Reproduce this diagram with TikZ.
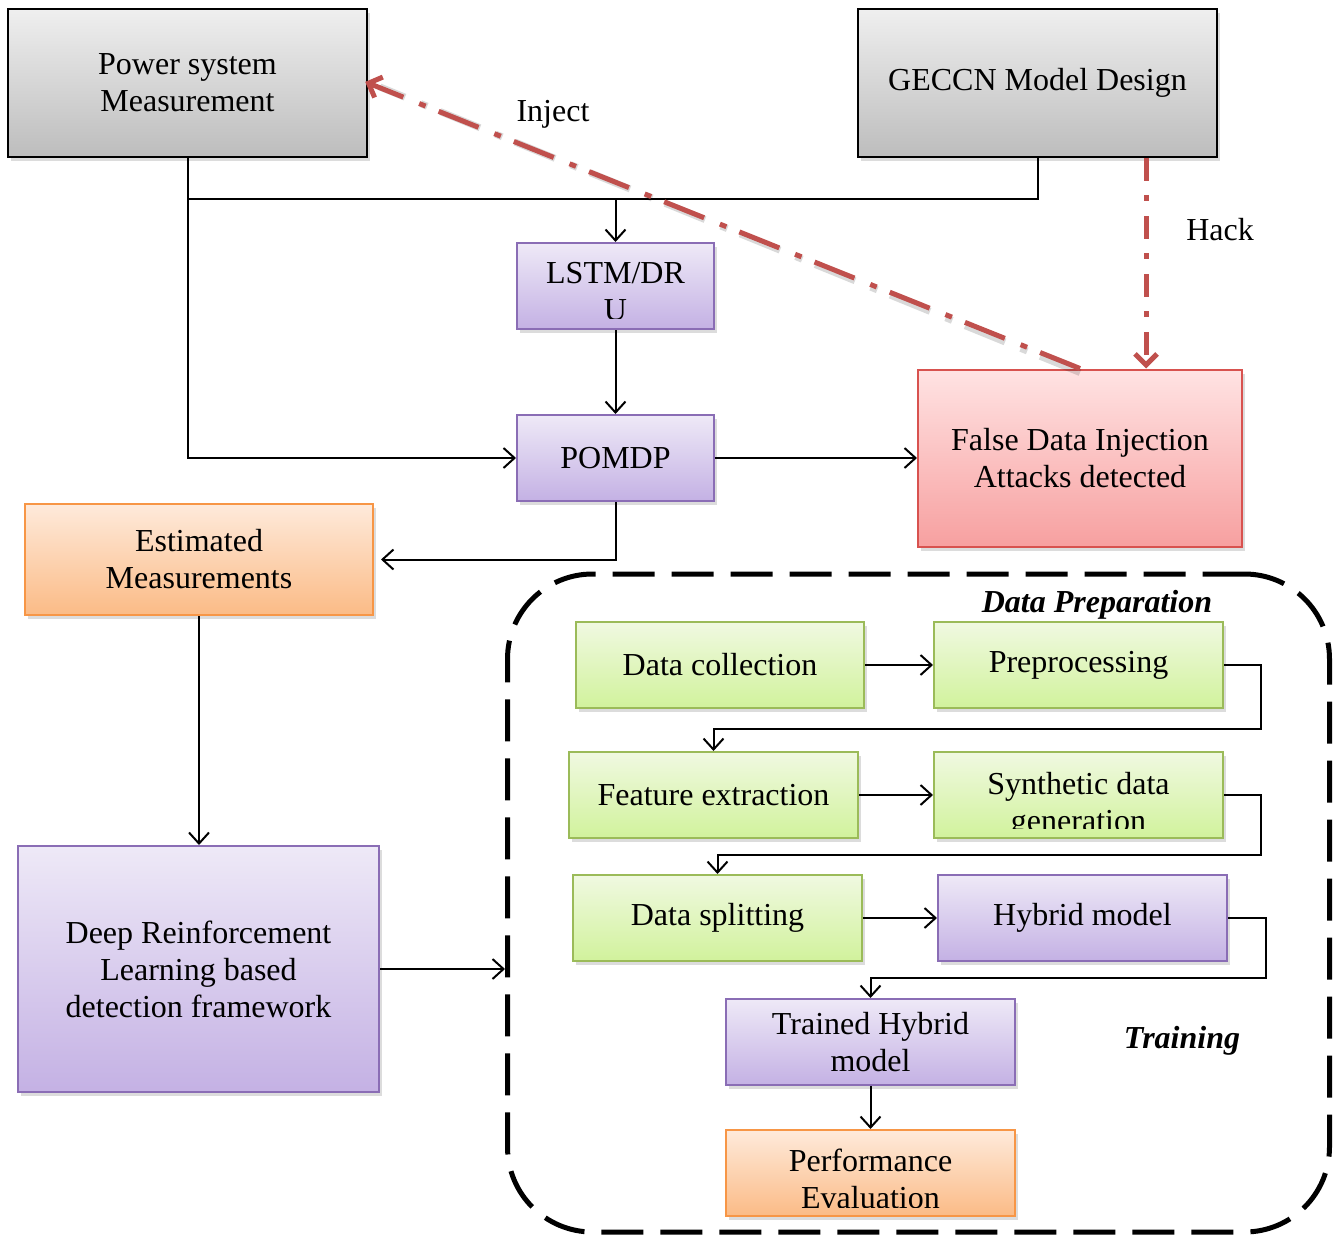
\documentclass[tikz,border=0pt]{standalone}
\usepackage{fontspec}
\setmainfont{Liberation Serif}
\usetikzlibrary{arrows.meta,shadows,calc}
\definecolor{grayT}{HTML}{EFEFEF}
\definecolor{grayB}{HTML}{BDBDBD}
\definecolor{purT}{HTML}{EEE9F7}
\definecolor{purB}{HTML}{C4B1E4}
\definecolor{purD}{HTML}{8A6DB5}
\definecolor{pinkT}{HTML}{FFE3E3}
\definecolor{pinkB}{HTML}{F7A0A0}
\definecolor{pinkD}{HTML}{D8524F}
\definecolor{oraT}{HTML}{FEEADB}
\definecolor{oraB}{HTML}{FBBB86}
\definecolor{oraD}{HTML}{F79646}
\definecolor{grnT}{HTML}{F0F9E1}
\definecolor{grnB}{HTML}{D1F29C}
\definecolor{grnD}{HTML}{9BBB59}
\definecolor{redL}{HTML}{C0504D}
\begin{document}
\begin{tikzpicture}[x=1pt,y=-1pt,
  txt/.style={align=center,inner sep=0pt,font=\fontsize{32}{37}\selectfont},
  box/.style={txt,line width=2pt,minimum height=86pt,
    drop shadow={shadow xshift=3pt,shadow yshift=-4pt,opacity=0.28}},
  graybox/.style={box,draw=black,top color=grayT,bottom color=grayB},
  purbox/.style={box,draw=purD,top color=purT,bottom color=purB},
  pinkbox/.style={box,draw=pinkD,top color=pinkT,bottom color=pinkB},
  orabox/.style={box,draw=oraD,top color=oraT,bottom color=oraB},
  grnbox/.style={box,draw=grnD,top color=grnT,bottom color=grnB},
  conn/.style={line width=2pt,draw=black},
  arr/.style={conn,-{Straight Barb[length=11pt,width=20pt]}},
  redarr/.style={draw=redL,line width=5pt,-{Straight Barb[length=11pt,width=22pt]}},
  lbl/.style={txt},
  blbl/.style={txt,font=\fontsize{32}{37}\selectfont\bfseries\itshape}
]
\useasboundingbox (0,0) rectangle (1334,1236);

% dashed region
\node[draw=black,line width=5pt,dash pattern=on 42pt off 17pt,rounded corners=85pt,
  minimum width=822pt,minimum height=658pt,inner sep=0pt] (prep) at (918.5,903) {};

% top boxes
\node[graybox,minimum width=359pt,minimum height=148pt] (pwr) at (187.5,83) {Power system\\Measurement};
\node[graybox,minimum width=359pt,minimum height=148pt] (geccn) at (1037.5,83) {GECCN Model Design};

\node[purbox,minimum width=197pt] (lstm) at (615.5,286) {};
\begin{scope}
  \clip (lstm.north west) rectangle ([yshift=12pt]lstm.south east);
  \node[txt] at ([yshift=-6pt]lstm.center) {LSTM/DR\\U};
\end{scope}
\node[purbox,minimum width=197pt] (pomdp) at (615.5,458) {POMDP};

\node[pinkbox,minimum width=324pt,minimum height=177pt] (fdi) at (1080,458) {False Data Injection\\Attacks detected};

\node[orabox,minimum width=348pt,minimum height=111pt] (est) at (199,559.5) {Estimated\\Measurements};
\node[purbox,minimum width=361pt,minimum height=246pt] (drl) at (198.5,969) {Deep Reinforcement\\Learning based\\detection framework};

% inner boxes
\node[grnbox,minimum width=288pt] (dc) at (720,665) {Data collection};
\node[grnbox,minimum width=289pt] (pre) at (1078.5,665) {Preprocessing};
\node[grnbox,minimum width=289pt] (fe) at (713.5,795) {Feature extraction};
\node[grnbox,minimum width=289pt] (syn) at (1078.5,795) {};
\begin{scope}
  \clip (syn.north west) rectangle ([yshift=11pt]syn.south east);
  \node[txt] at ([yshift=-10pt]syn.center) {Synthetic data\\generation};
\end{scope}
\node[grnbox,minimum width=289pt] (ds) at (717.5,918) {Data splitting};
\node[purbox,minimum width=289pt] (hyb) at (1082.5,918) {Hybrid model};
\node[purbox,minimum width=289pt] (thm) at (870.5,1042) {Trained Hybrid\\model};
\node[orabox,minimum width=289pt] (perf) at (870.5,1173) {};
\begin{scope}
  \clip (perf.north west) rectangle ([yshift=10pt]perf.south east);
  \node[txt] at ([yshift=-6pt]perf.center) {Performance\\Evaluation};
\end{scope}

% labels
\node[lbl] (linject) at (553,114) {Inject};
\node[lbl] (lhack) at (1220,230) {Hack};
\node[blbl] (lprep) at (1097,605) {Data Preparation};
\node[blbl] (ltrain) at (1182,1041) {Training};

% connectors
\coordinate (bus) at (615.5,199);
\draw[conn] (geccn.south) |- (pwr.south |- bus);
\draw[arr] (pwr.south) |- (pomdp.west);
\draw[arr] (bus) -- (lstm.north);
\draw[arr] (lstm.south) -- (pomdp.north);
\draw[arr] (pomdp.east) -- (pomdp.east -| fdi.west);
\draw[arr,shorten >=7pt] (pomdp.south) |- (est.east);
\draw[arr] (est.south) -- (est.south |- drl.north);
\draw[arr] (drl.east) -- (drl.east -| prep.west);

\draw[arr] (dc.east) -- (pre.west);
\draw[arr] (pre.east) -- ++(37,0) -- ++(0,64) -| (fe.north);
\draw[arr] (fe.east) -- (fe.east -| syn.west);
\draw[arr] (syn.east) -- ++(37,0) -- ++(0,60) -| (ds.north);
\draw[arr] (ds.east) -- (hyb.west);
\draw[arr] (hyb.east) -- ++(38,0) -- ++(0,60) -| (thm.north);
\draw[arr] (thm.south) -- (perf.north);

% red attack arrows
\coordinate (hs) at ([xshift=108.5pt]geccn.south);
\draw[redarr,dash pattern=on 23pt off 14pt on 6pt off 15pt] (hs) -- (hs |- fdi.north);
\draw[draw=black,opacity=0.15,line width=7pt,dash pattern=on 43pt off 14pt on 7pt off 17pt,
  transform canvas={yshift=-4pt}] (fdi.north) -- ([xshift=12pt]pwr.east);
\draw[redarr,dash pattern=on 43pt off 14pt on 7pt off 17pt,shorten >=-3pt] (fdi.north) -- (pwr.east);
\end{tikzpicture}
\end{document}
